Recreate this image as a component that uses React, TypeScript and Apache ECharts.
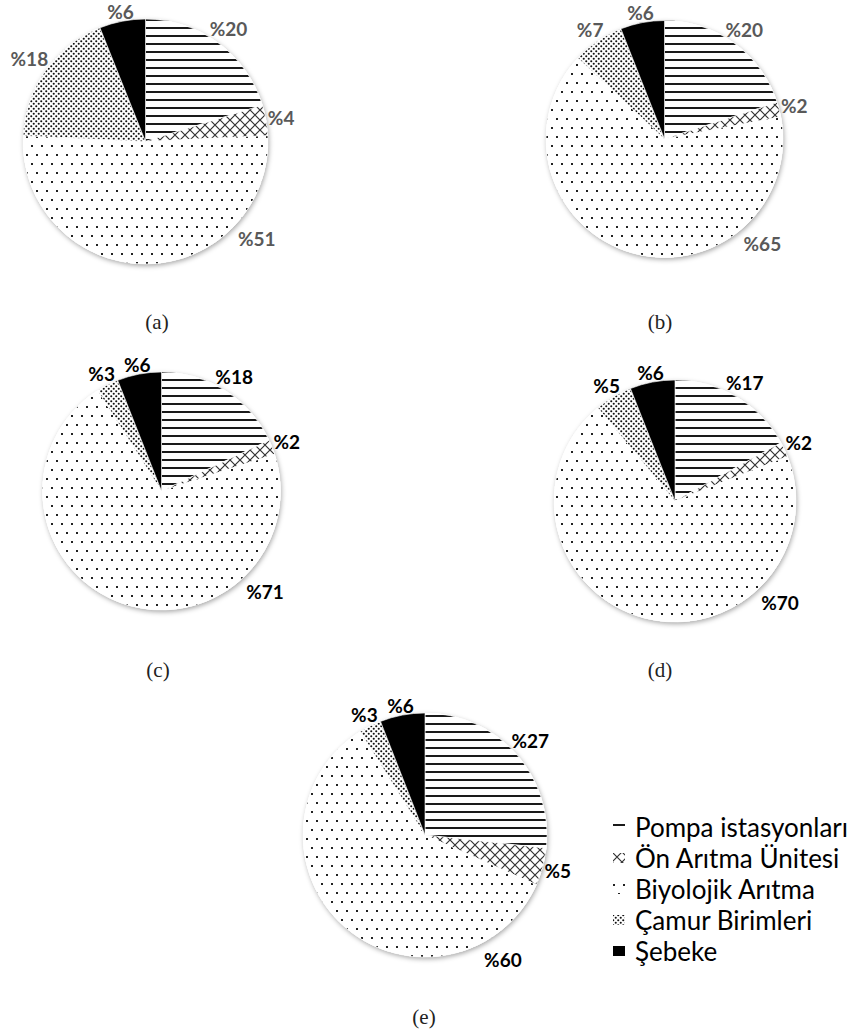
import React, { useEffect, useRef } from 'react';
import * as echarts from 'echarts';

const categories = ['Pompa istasyonları', 'Ön Arıtma Ünitesi', 'Biyolojik Arıtma', 'Çamur Birimleri', 'Şebeke'];
const panelLabels = ['(a)', '(b)', '(c)', '(d)', '(e)'];
const valuesA = [20, 4, 51, 18, 6];
const valuesB = [20, 2, 65, 7, 6];
const valuesC = [18, 2, 71, 3, 6];
const valuesD = [17, 2, 70, 5, 6];
const valuesE = [27, 5, 60, 3, 6];
const panelValues = [valuesA, valuesB, valuesC, valuesD, valuesE];

const layout = [
  { cx: 145.5, cy: 141.5, r: 122.5, capX: 157, capY: 322, labelColor: '#595959', bigAngle: 131 },
  { cx: 664.5, cy: 139, r: 118.5, capX: 660, capY: 322, labelColor: '#595959', bigAngle: 137 },
  { cx: 161.5, cy: 491, r: 119, capX: 158, capY: 670, labelColor: '#000000', bigAngle: 134 },
  { cx: 675, cy: 501, r: 121, capX: 660, capY: 670, labelColor: '#000000', bigAngle: 134 },
  { cx: 425, cy: 835, r: 122, capX: 424, capY: 1017, labelColor: '#000000', bigAngle: 148 },
];

function makeTile(w: number, h: number, draw: (ctx: CanvasRenderingContext2D) => void) {
  const c = document.createElement('canvas');
  c.width = w;
  c.height = h;
  const ctx = c.getContext('2d') as CanvasRenderingContext2D;
  ctx.fillStyle = '#ffffff';
  ctx.fillRect(0, 0, w, h);
  draw(ctx);
  return { image: c.toDataURL('image/png'), repeat: 'repeat', imageWidth: w, imageHeight: h };
}

function buildPatterns() {
  const lines = makeTile(8, 8, (ctx) => {
    ctx.fillStyle = '#1a1a1a';
    ctx.fillRect(0, 3, 8, 2);
  });
  const cross = makeTile(10, 10, (ctx) => {
    ctx.strokeStyle = '#333333';
    ctx.lineWidth = 1.2;
    ctx.beginPath();
    ctx.moveTo(-1, -1);
    ctx.lineTo(11, 11);
    ctx.moveTo(11, -1);
    ctx.lineTo(-1, 11);
    ctx.stroke();
  });
  const sparse = makeTile(10, 18, (ctx) => {
    ctx.fillStyle = '#222222';
    ctx.fillRect(1, 1, 2, 2);
    ctx.fillRect(6, 10, 2, 2);
  });
  const dense = makeTile(5, 5, (ctx) => {
    ctx.fillStyle = '#111111';
    ctx.beginPath();
    ctx.arc(1.25, 1.25, 1.05, 0, Math.PI * 2);
    ctx.arc(3.75, 3.75, 1.05, 0, Math.PI * 2);
    ctx.fill();
  });
  return [lines, cross, sparse, dense, '#000000'];
}

export default function App() {
  const ref = useRef<HTMLDivElement>(null);
  useEffect(() => {
    if (!ref.current) return;
    const chart = echarts.init(ref.current, null, { renderer: 'svg' });
    const patterns = buildPatterns();
    const series: any[] = [];
    panelValues.forEach((vals, i) => {
      const L = layout[i];
      series.push({
        type: 'pie',
        silent: true,
        z: 1,
        center: [L.cx, L.cy],
        radius: L.r,
        label: { show: false },
        labelLine: { show: false },
        data: [{ value: 1, name: 'bg' + i }],
        itemStyle: {
          color: '#ffffff',
          shadowBlur: 5,
          shadowColor: 'rgba(0,0,0,0.35)',
          shadowOffsetX: 1,
          shadowOffsetY: 2,
        },
      });
      let maxIdx = 0;
      vals.forEach((v, k) => { if (v > vals[maxIdx]) maxIdx = k; });
      const total = vals.reduce((s, v) => s + v, 0);
      const mids: number[] = [];
      let cum = 0;
      vals.forEach((v) => { mids.push(((cum + v / 2) / total) * 360); cum += v; });
      series.push({
        type: 'pie',
        z: 2,
        silent: true,
        center: [L.cx, L.cy],
        radius: L.r,
        startAngle: 90,
        clockwise: true,
        avoidLabelOverlap: false,
        emphasis: { disabled: true },
        label: {
          show: true,
          position: 'outside',
          formatter: '%{c}',
          fontFamily: 'Lato',
          fontWeight: 'bold',
          fontSize: 19,
          lineHeight: 16,
          color: L.labelColor,
          distanceToLabelLine: 3,
        },
        labelLine: { show: false, length: 3, length2: 0 },
        labelLayout: (p: any) => {
          const big = p.dataIndex === maxIdx;
          const deg = big ? L.bigAngle : mids[p.dataIndex];
          const a = (deg * Math.PI) / 180;
          const s = Math.sin(a);
          const c = Math.cos(a);
          let d: number;
          if (big) {
            d = L.r + 25;
          } else {
            const hw = (p.labelRect ? p.labelRect.width : 24) / 2;
            d = L.r + 1 + hw * Math.abs(s) + 6.5 * Math.abs(c);
          }
          return {
            x: L.cx + d * s,
            y: L.cy - d * c,
            align: 'center',
            verticalAlign: 'middle',
          };
        },
        itemStyle: { borderColor: '#ffffff', borderWidth: 0.6 },
        data: vals.map((v, k) => ({
          value: v,
          name: categories[k],
          itemStyle: { color: patterns[k] },
        })),
      });
    });
    chart.setOption({
      animation: false,
      legend: {
        data: categories,
        orient: 'vertical',
        left: 606,
        top: 809,
        itemWidth: 14,
        itemHeight: 12,
        itemGap: 5,
        icon: 'rect',
        selectedMode: false,
        textStyle: { fontFamily: 'Lato', fontSize: 26, color: '#000000', padding: [0, 0, 0, 4] },
      },
      graphic: panelLabels.map((t, i) => ({
        type: 'text',
        x: layout[i].capX,
        y: layout[i].capY,
        style: {
          text: t,
          fontFamily: 'Liberation Serif',
          fontSize: 21,
          align: 'center',
          verticalAlign: 'middle',
          fill: '#222222',
        },
      })),
      series,
    });
    return () => chart.dispose();
  }, []);
  return (
    <div
      ref={ref}
      style={{ position: 'absolute', left: 0, top: 0, width: 866, height: 1034, background: '#ffffff' }}
    />
  );
}
